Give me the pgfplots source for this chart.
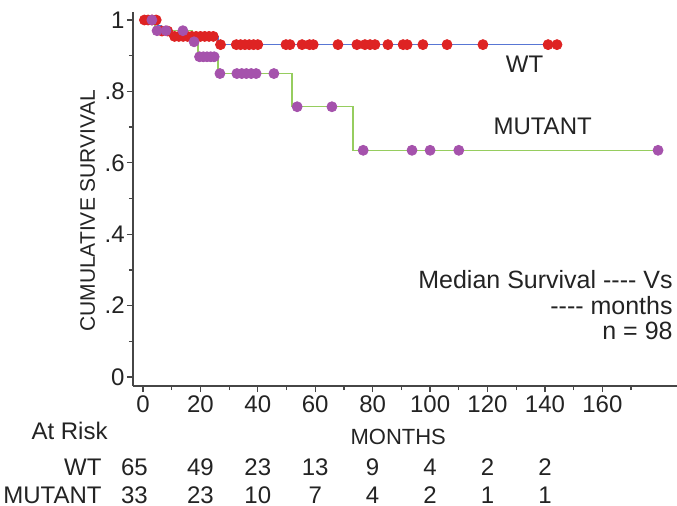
\documentclass[border=0pt]{standalone}
\usepackage{fontspec}
\setmainfont{Liberation Sans}
\usepackage{pgfplots}
\pgfplotsset{compat=1.18}
\definecolor{wtline}{RGB}{88,118,212}
\definecolor{wtdot}{RGB}{222,35,35}
\definecolor{mutline}{RGB}{150,205,95}
\definecolor{mutdot}{RGB}{165,82,172}
\definecolor{axisgray}{RGB}{70,70,70}
\definecolor{txt}{RGB}{35,35,35}
\tikzset{rt/.style={anchor=base, font=\fontsize{12bp}{14bp}\selectfont, text=txt, inner sep=0pt}}
\newcommand{\dashes}{{-}{-}{-}{-}}

\begin{document}
\begin{tikzpicture}
% 1 px of the reference = 0.5bp
\useasboundingbox (-66.5bp,-60bp) rectangle (272bp,193bp);
\begin{axis}[
  at={(0,0)}, anchor=south west,
  scale only axis, width=272bp, height=187bp,
  xmin=-3.48, xmax=186, ymin=-0.0252, ymax=1.0224,
  axis lines=left,
  axis line style={-, draw=axisgray, line width=0.6bp},
  tick style={draw=axisgray, line width=0.6bp},
  tick align=outside,
  major tick length=3bp, minor tick length=2bp,
  xtick={0,20,...,160},
  minor xtick={10,30,...,180},
  ytick={0,0.2,0.4,0.6,0.8,1},
  yticklabels={0,.2,.4,.6,.8,1},
  minor ytick={0.1,0.3,0.5,0.7,0.9},
  /pgf/number format/assume math mode=true,
  tick label style={font=\fontsize{12bp}{14bp}\selectfont, text=txt},
  xticklabel style={inner sep=1.5bp},
  yticklabel style={inner sep=1bp},
  clip=false,
]
% WT
\addplot[const plot, draw=wtline, line width=0.75bp] coordinates {
  (0,1) (5.3,0.985) (6.2,0.969) (9.4,0.954) (26.1,0.931) (144.3,0.931)
};
\addplot[only marks, mark=*, mark size=2.5bp, mark options={fill=wtdot, draw=wtdot}] coordinates {
  (0.5,1) (1.8,1) (3.2,1) (4.6,1)
  (6.6,0.969) (8.6,0.969)
  (11,0.954) (12.5,0.954) (14,0.954) (15.5,0.954) (17,0.954) (18.5,0.954)
  (20,0.954) (21.5,0.954) (23,0.954) (24.5,0.954)
  (27,0.931) (32.5,0.931) (34,0.931) (35.5,0.931) (37,0.931) (38.5,0.931) (40,0.931)
  (49.8,0.931) (51.2,0.931) (55.4,0.931) (58,0.931) (59.3,0.931)
  (67.9,0.931) (74.5,0.931) (77.3,0.931) (79.1,0.931) (80.8,0.931)
  (85.3,0.931) (90.6,0.931) (92,0.931) (97.5,0.931) (105.9,0.931)
  (118.4,0.931) (141.1,0.931) (144.2,0.931)
};
% MUTANT
\addplot[const plot, draw=mutline, line width=0.75bp] coordinates {
  (0,1) (4.2,0.970) (17.1,0.939) (19.2,0.897) (26.1,0.850) (51.9,0.757) (73.2,0.635) (179.4,0.635)
};
\addplot[only marks, mark=*, mark size=2.5bp, mark options={fill=mutdot, draw=mutdot}] coordinates {
  (3.1,1)
  (4.9,0.970) (8,0.970) (13.9,0.970)
  (17.8,0.939)
  (19.7,0.897) (21,0.897) (22.3,0.897) (23.6,0.897) (24.8,0.897)
  (26.8,0.850) (32.7,0.850) (34.4,0.850) (36,0.850) (37.7,0.850) (39.4,0.850) (45.6,0.850)
  (53.7,0.757) (65.8,0.757)
  (76.7,0.635) (93.7,0.635) (100,0.635) (110,0.635) (179.4,0.635)
};
% labels and annotations
\begin{scope}[every node/.style={text=txt, inner sep=0pt}]
\node[rotate=90, font=\fontsize{10.5bp}{12bp}\selectfont] at (axis cs:-19.3,0.465) {CUMULATIVE SURVIVAL};
\node[font=\fontsize{12bp}{14bp}\selectfont] at (axis cs:132.9,0.875) {WT};
\node[font=\fontsize{12bp}{14bp}\selectfont] at (axis cs:139.2,0.702) {MUTANT};
\node[anchor=base east, font=\fontsize{12.5bp}{14bp}\selectfont] at (axis cs:184.6,0.249) {Median Survival \dashes{} Vs};
\node[anchor=base east, font=\fontsize{12.5bp}{14bp}\selectfont] at (axis cs:184.6,0.174) {\dashes{} months};
\node[anchor=base east, font=\fontsize{12.5bp}{14bp}\selectfont] at (axis cs:184.6,0.104) {n = 98};
\node[anchor=base, font=\fontsize{11bp}{13bp}\selectfont] at (axis cs:88.9,-0.188) {MONTHS};
\node[anchor=base east, font=\fontsize{12bp}{14bp}\selectfont] at (axis cs:-12.2,-0.176) {At Risk};
\node[anchor=base east, font=\fontsize{12bp}{14bp}\selectfont] at (axis cs:-14.3,-0.275) {WT};
\node[anchor=base east, font=\fontsize{12bp}{14bp}\selectfont] at (axis cs:-14.3,-0.353) {MUTANT};
\end{scope}
% at-risk table
\node[rt] at (axis cs:-3,-0.275) {65};
\node[rt] at (axis cs:20,-0.275) {49};
\node[rt] at (axis cs:40,-0.275) {23};
\node[rt] at (axis cs:60,-0.275) {13};
\node[rt] at (axis cs:80,-0.275) {9};
\node[rt] at (axis cs:100,-0.275) {4};
\node[rt] at (axis cs:120,-0.275) {2};
\node[rt] at (axis cs:140,-0.275) {2};
\node[rt] at (axis cs:-3,-0.353) {33};
\node[rt] at (axis cs:20,-0.353) {23};
\node[rt] at (axis cs:40,-0.353) {10};
\node[rt] at (axis cs:60,-0.353) {7};
\node[rt] at (axis cs:80,-0.353) {4};
\node[rt] at (axis cs:100,-0.353) {2};
\node[rt] at (axis cs:120,-0.353) {1};
\node[rt] at (axis cs:140,-0.353) {1};
\end{axis}
\end{tikzpicture}
\end{document}
